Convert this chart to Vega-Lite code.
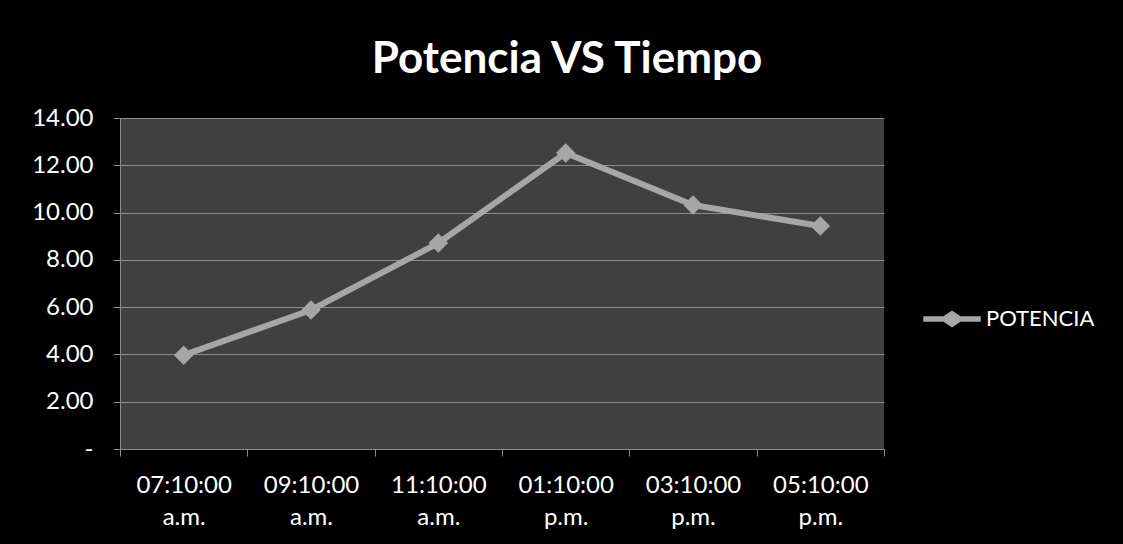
{
  "$schema": "https://vega.github.io/schema/vega-lite/v6.json",
  "autosize": {"type": "none"},
  "width": 764,
  "height": 331,
  "padding": {"left": 120, "top": 118, "right": 239, "bottom": 95},
  "background": "#000000",
  "title": {
    "text": "Potencia VS Tiempo",
    "anchor": "middle",
    "frame": "group",
    "dx": 65,
    "offset": 24,
    "font": "Lato",
    "fontSize": 44,
    "fontWeight": "bold",
    "color": "#ffffff"
  },
  "data": {
    "values": [
      {"hora": "07:10:00 a.m.", "potencia": 3.97, "serie": "POTENCIA"},
      {"hora": "09:10:00 a.m.", "potencia": 5.88, "serie": "POTENCIA"},
      {"hora": "11:10:00 a.m.", "potencia": 8.71, "serie": "POTENCIA"},
      {"hora": "01:10:00 p.m.", "potencia": 12.52, "serie": "POTENCIA"},
      {"hora": "03:10:00 p.m.", "potencia": 10.32, "serie": "POTENCIA"},
      {"hora": "05:10:00 p.m.", "potencia": 9.43, "serie": "POTENCIA"}
    ]
  },
  "encoding": {
    "x": {
      "field": "hora",
      "type": "nominal",
      "sort": null,
      "bandPosition": 0.5,
      "scale": {"type": "band", "paddingInner": 0, "paddingOuter": 0},
      "axis": {
        "title": null,
        "labelAngle": 0,
        "labelExpr": "split(datum.label, ' ')",
        "labelLineHeight": 32,
        "labelPadding": 17,
        "labelFont": "Lato",
        "labelFontSize": 24,
        "labelColor": "#ffffff",
        "tickBand": "extent",
        "tickSize": 7,
        "tickColor": "#8c8c8c",
        "domainColor": "#8c8c8c",
        "grid": false
      }
    },
    "y": {
      "field": "potencia",
      "type": "quantitative",
      "scale": {"domain": [0, 14], "nice": false},
      "axis": {
        "title": null,
        "values": [0, 2, 4, 6, 8, 10, 12, 14],
        "labelExpr": "datum.value == 0 ? '-' : format(datum.value, '.2f')",
        "labelPadding": 20,
        "labelFont": "Lato",
        "labelFontSize": 24,
        "labelColor": "#ffffff",
        "tickSize": 7,
        "tickColor": "#8c8c8c",
        "domainColor": "#8c8c8c",
        "gridColor": "#8c8c8c",
        "gridWidth": 1.2,
        "gridOpacity": 1
      }
    },
    "color": {
      "field": "serie",
      "type": "nominal",
      "scale": {"range": ["#a6a6a6"]},
      "legend": {
        "title": null,
        "orient": "none",
        "legendX": 803,
        "legendY": 172,
        "symbolType": "M-1,-0.1H-0.3L0,-0.3L0.3,-0.1H1V0.1H0.3L0,0.3L-0.3,0.1H-1Z",
        "symbolSize": 3300,
        "symbolStrokeWidth": 0,
        "symbolFillColor": "#a6a6a6",
        "labelFont": "Lato",
        "labelFontSize": 22,
        "labelColor": "#ffffff",
        "labelOffset": 5,
        "padding": 0
      }
    }
  },
  "layer": [
    {"mark": {"type": "line", "strokeWidth": 6}},
    {"mark": {"type": "point", "shape": "diamond", "size": 380, "filled": true, "opacity": 1}}
  ],
  "config": {
    "view": {"fill": "#404040", "stroke": null}
  }
}
